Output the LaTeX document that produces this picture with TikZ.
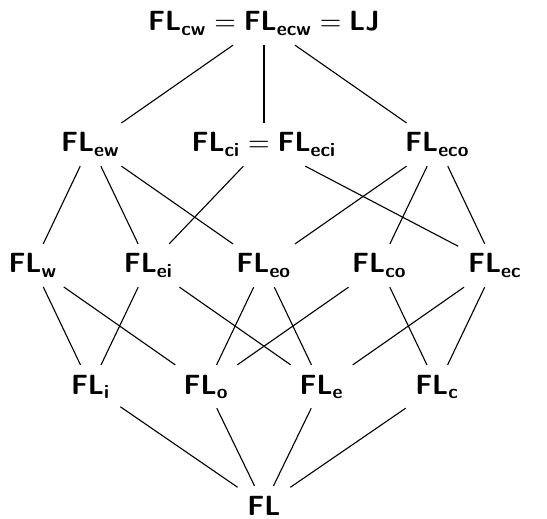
\documentclass[tikz,border=0pt]{standalone}
\usepackage{amsmath}
\newcommand{\bsf}[1]{\textsf{\textbf{#1}}}
\newcommand{\lgc}[1]{\bsf{FL}_{\bsf{#1}}}
\begin{document}
\begin{tikzpicture}[x=0.36pt,y=-0.36pt,
  lat/.style={anchor=base},
  edge/.style={line width=0.4pt}]
\useasboundingbox (0,0) rectangle (547,518);
% row 1
\node[lat] (top) at (264,31) {$\lgc{cw} = \lgc{ecw} = \bsf{LJ}$};
% row 2
\node[lat] (ew)  at (90.5,152) {$\lgc{ew}$};
\node[lat] (ci)  at (264,152) {$\lgc{ci} = \lgc{eci}$};
\node[lat] (eco) at (437.5,152) {$\lgc{eco}$};
% row 3
\node[lat] (w)  at (33,273) {$\lgc{w}$};
\node[lat] (ei) at (148.5,273) {$\lgc{ei}$};
\node[lat] (eo) at (264,273) {$\lgc{eo}$};
\node[lat] (co) at (379.5,273) {$\lgc{co}$};
\node[lat] (ec) at (495,273) {$\lgc{ec}$};
% row 4
\node[lat] (i) at (90.75,394) {$\lgc{i}$};
\node[lat] (o) at (206.25,394) {$\lgc{o}$};
\node[lat] (e) at (321.75,394) {$\lgc{e}$};
\node[lat] (c) at (437.25,394) {$\lgc{c}$};
% row 5
\node[lat] (fl) at (264,515) {$\bsf{FL}$};
% edges
\draw[edge] (top) -- (ew);
\draw[edge] (top) -- (ci);
\draw[edge] (top) -- (eco);
\draw[edge] (ew) -- (w);
\draw[edge] (ew) -- (ei);
\draw[edge] (ew) -- (eo);
\draw[edge] (ci) -- (ei);
\draw[edge] (ci) -- (ec);
\draw[edge] (eco) -- (eo);
\draw[edge] (eco) -- (co);
\draw[edge] (eco) -- (ec);
\draw[edge] (w) -- (i);
\draw[edge] (w) -- (o);
\draw[edge] (ei) -- (i);
\draw[edge] (ei) -- (e);
\draw[edge] (eo) -- (o);
\draw[edge] (eo) -- (e);
\draw[edge] (co) -- (o);
\draw[edge] (co) -- (c);
\draw[edge] (ec) -- (e);
\draw[edge] (ec) -- (c);
\draw[edge] (i) -- (fl);
\draw[edge] (o) -- (fl);
\draw[edge] (e) -- (fl);
\draw[edge] (c) -- (fl);
\end{tikzpicture}
\end{document}
